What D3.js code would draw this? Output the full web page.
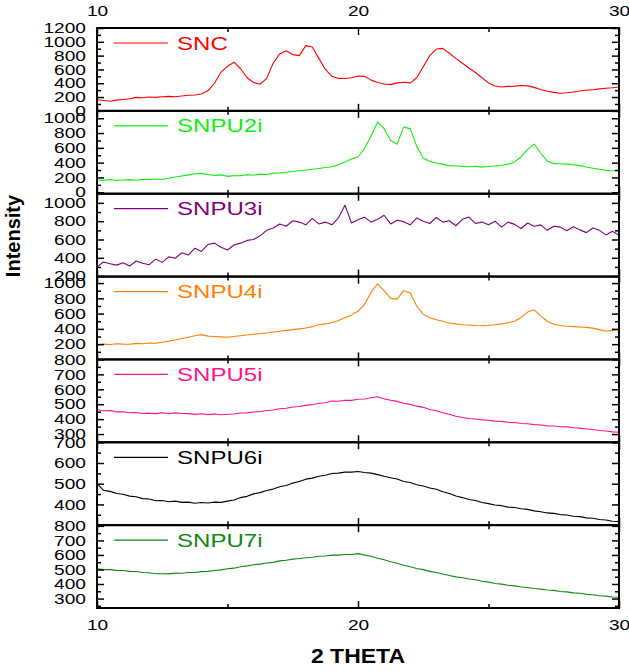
<!DOCTYPE html>
<html>
<head>
<meta charset="utf-8">
<script src="https://cdn.jsdelivr.net/npm/d3@7"></script>
<style>
  body { margin: 0; background: #fff; }
  text { font-family: "Liberation Sans", Arial, sans-serif; fill: #000; }
</style>
</head>
<body>
<div id="chart"></div>
<script>
// 2 theta positions shared by all scans
const theta = [
  10, 10.25, 10.5, 10.75, 11, 11.25, 11.5, 11.75, 12, 12.25, 12.5, 12.75,
  13, 13.25, 13.5, 13.75, 14, 14.25, 14.5, 14.75, 15, 15.25, 15.5, 15.75,
  16, 16.25, 16.5, 16.75, 17, 17.25, 17.5, 17.75, 18, 18.25, 18.5, 18.75,
  19, 19.25, 19.5, 19.75, 20, 20.25, 20.5, 20.75, 21, 21.25, 21.5, 21.75,
  22, 22.25, 22.5, 22.75, 23, 23.25, 23.5, 23.75, 24, 24.25, 24.5, 24.75,
  25, 25.25, 25.5, 25.75, 26, 26.25, 26.5, 26.75, 27, 27.25, 27.5, 27.75,
  28, 28.25, 28.5, 28.75, 29, 29.25, 29.5, 29.75, 30
];

const snc = [
  160, 150, 140, 155, 165, 175, 195, 190, 200, 195, 205, 210,
  205, 215, 225, 230, 245, 290, 400, 560, 645, 705, 610, 480,
  410, 385, 470, 690, 825, 870, 815, 800, 945, 925, 760, 600,
  500, 470, 468, 480, 505, 500, 445, 410, 390, 380, 405, 415,
  405, 480, 640, 800, 895, 905, 835, 760, 690, 620, 555, 480,
  405, 360, 345, 355, 358, 368, 362, 340, 310, 285, 268, 255,
  262, 272, 288, 298, 305, 318, 328, 335, 345
];
const snpu2i = [
  165, 160, 172, 158, 165, 170, 162, 175, 170, 178, 172, 190,
  205, 220, 235, 250, 255, 240, 228, 235, 215, 225, 222, 238,
  230, 245, 240, 258, 262, 270, 280, 290, 300, 310, 320, 335,
  345, 370, 410, 450, 480, 590, 760, 950, 860, 700, 650, 880,
  860, 620, 460, 420, 395, 380, 360, 355, 350, 345, 352, 340,
  348, 355, 365, 380, 410, 480, 580, 650, 530, 420, 390, 385,
  380, 372, 360, 340, 325, 310, 295, 288, 300
];
const snpu3i = [
  300, 355, 335, 320, 345, 310, 365, 340, 325, 385, 350, 410,
  395, 455, 430, 505, 470, 545, 560, 515, 485, 540, 560, 590,
  600, 640, 700, 725, 770, 745, 805, 790, 760, 830, 770, 790,
  760, 835, 975, 780, 815, 845, 790, 820, 865, 770, 810, 795,
  760, 835, 800, 775, 840, 790, 805, 750, 820, 845, 775, 790,
  760, 800, 735, 790, 765, 720, 780, 745, 760, 700, 745, 735,
  695, 740, 705, 675, 725, 700, 650, 690, 645
];
const snpu4i = [
  190, 200, 195, 205, 200, 198, 210, 205, 215, 212, 225, 240,
  255, 275, 290, 310, 325, 305, 300, 295, 290, 300, 310, 320,
  330, 340, 345, 360, 368, 380, 390, 400, 412, 430, 455, 465,
  480, 510, 545, 580, 630, 720, 880, 990, 900, 800, 790, 900,
  870, 700, 590, 545, 520, 500, 478, 465, 455, 450, 445, 442,
  447, 455, 465, 480, 500, 550, 620, 650, 570, 500, 460, 445,
  435, 430, 425, 420, 410, 390, 370, 380, 390
];
const snpu5i = [
  465, 456, 457, 449, 450, 443, 444, 438, 440, 437, 443, 436,
  442, 438, 437, 432, 436, 430, 435, 429, 433, 434, 441, 442,
  448, 451, 458, 461, 470, 473, 481, 485, 492, 497, 506, 510,
  521, 520, 527, 526, 533, 535, 543, 550, 536, 527, 519, 507,
  499, 487, 479, 465, 456, 443, 433, 419, 411, 404, 401, 395,
  393, 387, 385, 379, 377, 371, 369, 363, 361, 355, 354, 349,
  348, 342, 340, 334, 331, 324, 321, 315, 312
];
const snpu6i = [
  500, 468, 463, 453, 449, 440, 437, 428, 426, 418, 419, 413,
  416, 410, 411, 406, 409, 407, 411, 410, 416, 421, 433, 439,
  451, 457, 467, 474, 485, 491, 503, 511, 522, 527, 536, 541,
  549, 551, 556, 556, 559, 554, 551, 544, 536, 529, 523, 511,
  506, 495, 489, 479, 473, 461, 453, 441, 433, 424, 419, 409,
  404, 397, 394, 387, 385, 379, 376, 369, 365, 359, 357, 351,
  349, 343, 341, 335, 333, 327, 325, 319, 317
];
const snpu7i = [
  505, 499, 499, 494, 493, 487, 486, 479, 477, 471, 471, 470,
  475, 474, 479, 479, 485, 487, 493, 497, 505, 509, 519, 525,
  533, 537, 545, 549, 559, 563, 571, 575, 581, 584, 591, 593,
  599, 599, 603, 603, 609, 599, 591, 577, 567, 553, 543, 529,
  519, 507, 499, 487, 479, 469, 459, 449, 443, 434, 429, 419,
  413, 404, 399, 391, 387, 379, 376, 369, 365, 359, 356, 349,
  346, 339, 336, 329, 326, 319, 317, 311, 309
];

const sampleNames = ["SNC", "SNPU2i", "SNPU3i", "SNPU4i", "SNPU5i", "SNPU6i", "SNPU7i"];
const sampleValues = [snc, snpu2i, snpu3i, snpu4i, snpu5i, snpu6i, snpu7i];
const sampleColors = ["#ff0000", "#11ee11", "#800080", "#ff8000", "#ff148c", "#000000", "#118811"];

// y range of each stacked panel, labelled ticks, unlabelled minor ticks
const yDomains = [[0, 1200], [-20, 1100], [195, 1100], [0, 1085], [245, 800], [300, 700], [235, 805]];
const yMajorTicks = [
  [0, 200, 400, 600, 800, 1000, 1200],
  [0, 200, 400, 600, 800, 1000],
  [200, 400, 600, 800, 1000],
  [200, 400, 600, 800, 1000],
  [300, 400, 500, 600, 700, 800],
  [400, 500, 600, 700],
  [300, 400, 500, 600, 700, 800]
];
const yMinorTicks = [
  [100, 300, 500, 700, 900, 1100],
  [100, 300, 500, 700, 900, 1100],
  [300, 500, 700, 900],
  [100, 300, 500, 700, 900],
  [250, 350, 450, 550, 650, 750],
  [350, 450, 550, 650],
  [250, 350, 450, 550, 650, 750]
];
const xMajorTicks = [10, 20, 30];
const xMinorTicks = [15, 25];

const W = 629, H = 671;
const margin = {top: 28, right: 10, bottom: 63, left: 97};
const plotW = W - margin.left - margin.right;
const plotH = H - margin.top - margin.bottom;
const panelH = plotH / sampleNames.length;

const svg = d3.select("#chart").append("svg")
  .attr("width", W)
  .attr("height", H);

const x = d3.scaleLinear().domain([10, 30]).range([margin.left, margin.left + plotW]);
const fmt = d3.format("d");

// tick text in the original is drawn wide
const stretch = t => t.attr("transform", "scale(1.3,1)");

sampleNames.forEach((name, i) => {
  const top = margin.top + i * panelH;
  const bottom = top + panelH;
  const y = d3.scaleLinear().domain(yDomains[i]).range([bottom, top]);
  const g = svg.append("g");

  g.append("clipPath").attr("id", "clip" + i)
    .append("rect")
    .attr("x", margin.left).attr("y", top)
    .attr("width", plotW).attr("height", panelH);

  // scan
  const pts = theta.map((t, k) => [t, sampleValues[i][k]]);
  g.append("path")
    .datum(pts)
    .attr("clip-path", `url(#clip${i})`)
    .attr("fill", "none")
    .attr("stroke", sampleColors[i])
    .attr("stroke-width", 1.1)
    .attr("stroke-linejoin", "round")
    .attr("d", d3.line().x(d => x(d[0])).y(d => y(d[1])));

  // left axis: labelled ticks + minor ticks, all pointing inward
  const left = g.append("g").attr("transform", `translate(${margin.left},0)`);
  left.call(d3.axisLeft(y).tickValues(yMajorTicks[i]).tickSize(-7).tickSizeOuter(0).tickPadding(8.5).tickFormat(fmt));
  left.append("g").call(d3.axisLeft(y).tickValues(yMinorTicks[i]).tickSize(-4).tickSizeOuter(0).tickFormat(""));
  left.selectAll("text").attr("font-size", 14.7).attr("font-family", "Liberation Sans, Arial, sans-serif").call(stretch);

  const right = g.append("g").attr("transform", `translate(${margin.left + plotW},0)`);
  right.call(d3.axisRight(y).tickValues(yMajorTicks[i]).tickSize(-7).tickSizeOuter(0).tickFormat(""));
  right.append("g").call(d3.axisRight(y).tickValues(yMinorTicks[i]).tickSize(-4).tickSizeOuter(0).tickFormat(""));

  // x ticks on top and bottom edge of every panel
  const topAx = g.append("g").attr("transform", `translate(0,${top})`);
  topAx.call(d3.axisTop(x).tickValues(xMajorTicks).tickSize(-7).tickSizeOuter(0).tickPadding(12)
    .tickFormat(i === 0 ? fmt : ""));
  topAx.append("g").call(d3.axisTop(x).tickValues(xMinorTicks).tickSize(-4).tickSizeOuter(0).tickFormat(""));

  const botAx = g.append("g").attr("transform", `translate(0,${bottom})`);
  botAx.call(d3.axisBottom(x).tickValues(xMajorTicks).tickSize(-7).tickSizeOuter(0).tickPadding(11.5)
    .tickFormat(i === sampleNames.length - 1 ? fmt : ""));
  botAx.append("g").call(d3.axisBottom(x).tickValues(xMinorTicks).tickSize(-4).tickSizeOuter(0).tickFormat(""));

  [topAx, botAx].forEach(a => a.selectAll("text").attr("font-size", 14.7)
    .attr("font-family", "Liberation Sans, Arial, sans-serif").call(stretch));

  g.selectAll(".domain").remove();
  g.selectAll(".tick line").attr("stroke", "#000").attr("stroke-width", 1.5);

  // panel frame
  g.append("rect")
    .attr("x", margin.left).attr("y", top)
    .attr("width", plotW).attr("height", panelH)
    .attr("fill", "none")
    .attr("stroke", "#000")
    .attr("stroke-width", 2);

  // legend
  g.append("line")
    .attr("x1", 114).attr("x2", 168)
    .attr("y1", top + 15).attr("y2", top + 15)
    .attr("stroke", sampleColors[i])
    .attr("stroke-width", 1.2);
  g.append("text")
    .attr("transform", `translate(177,${top + 21.5}) scale(1.3,1)`)
    .attr("font-size", 18.5)
    .style("fill", sampleColors[i])
    .text(name);
});

// axis titles
svg.append("text")
  .attr("transform", `translate(${margin.left + plotW / 2},663) scale(1.15,1)`)
  .attr("text-anchor", "middle")
  .attr("font-size", 20)
  .attr("font-weight", "bold")
  .text("2 THETA");

svg.append("text")
  .attr("transform", "translate(19.5,236) rotate(-90)")
  .attr("text-anchor", "middle")
  .attr("font-size", 20)
  .attr("font-weight", "bold")
  .text("Intensity");
</script>
</body>
</html>
